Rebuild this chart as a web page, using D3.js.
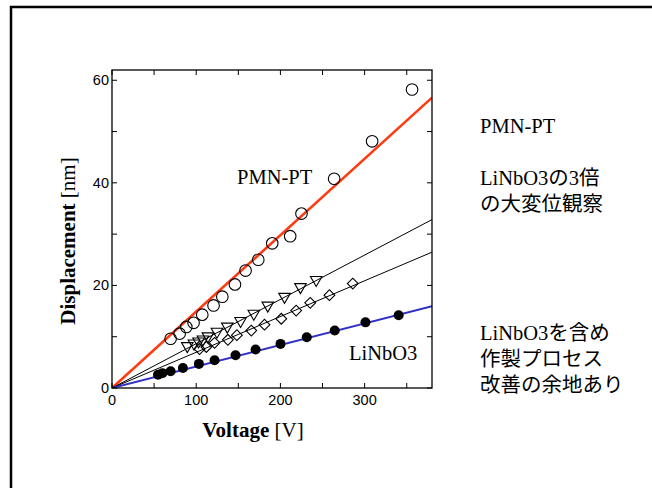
<!DOCTYPE html>
<html>
<head>
<meta charset="utf-8">
<script src="https://cdn.jsdelivr.net/npm/d3@7"></script>
<style>
  html, body { margin: 0; padding: 0; background: #fff; }
  svg { display: block; }
</style>
</head>
<body>
<svg id="chart" width="652" height="488"></svg>
<script>
// Displacement vs. voltage for several piezo samples
const pmnVolt  = [69.6, 80.3, 88.2, 96.9, 107.2, 120.6, 131, 146, 158.6, 173.7, 190.3, 211.6, 225, 263.8, 308.9, 356.3];
const pmnDisp  = [9.6, 10.6, 11.9, 12.7, 14.3, 16.1, 17.8, 20.2, 22.9, 25.0, 28.2, 29.6, 34.0, 40.8, 48.1, 58.2];

const triVolt  = [89.4, 97.3, 102.8, 108, 113.9, 124.6, 136.9, 152.7, 168.4, 185, 204.9, 223.8, 242.5];
const triDisp  = [8.2, 8.7, 9.1, 9.5, 10.1, 11.0, 12.0, 13.1, 14.5, 16.1, 17.8, 19.7, 21.1];

const diaVolt  = [104, 112, 121.8, 137.6, 148.3, 165.4, 181.1, 201, 218.7, 235.4, 258.2, 285.9];
const diaDisp  = [7.6, 8.0, 8.8, 9.4, 10.3, 11.2, 12.35, 13.5, 15.1, 16.6, 18.1, 20.35];

const lnVolt   = [54.6, 59.8, 69.6, 84.2, 103.2, 121.8, 146.7, 170.5, 200.1, 231.3, 264.5, 301, 340.4];
const lnDisp   = [2.6, 2.9, 3.25, 3.9, 4.7, 5.4, 6.4, 7.5, 8.6, 9.9, 11.2, 12.8, 14.2];

// Slopes of the linear fits through the origin [nm/V]
const fitNames  = ["pmn", "tri", "dia", "ln"];
const fitSlopes = [0.149, 0.0864, 0.0697, 0.0419];

const xTicks = [0, 100, 200, 300];
const xMinor = [50, 150, 250, 350];
const yTicks = [0, 20, 40, 60];
const yMinor = [10, 30, 50];

const noteTop    = ["PMN-PT", "", "LiNbO3の3倍", "の大変位観察"];
const noteBottom = ["LiNbO3を含め", "作製プロセス", "改善の余地あり"];

const svg = d3.select("#chart");
const serif = "'Liberation Serif', 'Times New Roman', serif";
const sans  = "'Liberation Sans', Arial, sans-serif";
const cjk   = "'Liberation Serif', 'Noto Sans CJK JP', serif";

// slide frame
svg.append("rect")
  .attr("x", 11).attr("y", 7).attr("width", 700).attr("height", 600)
  .attr("fill", "none").attr("stroke", "#000").attr("stroke-width", 2.5);

const L = 112, R = 432, T = 70, B = 388;
const x = d3.scaleLinear().domain([0, 380]).range([L, R]);
const y = d3.scaleLinear().domain([0, 62]).range([B, T]);

svg.append("clipPath").attr("id", "plotClip")
  .append("rect").attr("x", L).attr("y", T).attr("width", R - L).attr("height", B - T);

// fitted lines
const fitStyle = {
  pmn: { color: "#ff3a10", width: 2.6 },
  tri: { color: "#000", width: 1 },
  dia: { color: "#000", width: 1 },
  ln:  { color: "#3030c8", width: 2 }
};
const gFit = svg.append("g").attr("clip-path", "url(#plotClip)");
fitNames.forEach((n, i) => {
  const s = fitSlopes[i];
  gFit.append("line")
    .attr("x1", x(0)).attr("y1", y(0))
    .attr("x2", x(380)).attr("y2", y(380 * s))
    .attr("stroke", fitStyle[n].color)
    .attr("stroke-width", fitStyle[n].width);
});

// markers
const zip = (a, b) => a.map((v, i) => [v, b[i]]);
const gPts = svg.append("g");

gPts.selectAll(".pmn").data(zip(pmnVolt, pmnDisp)).join("circle")
  .attr("cx", d => x(d[0])).attr("cy", d => y(d[1])).attr("r", 5.8)
  .attr("fill", "none").attr("stroke", "#000").attr("stroke-width", 1.1);

const triPath = d3.symbol().type(d3.symbolTriangle).size(58)();
gPts.selectAll(".tri").data(zip(triVolt, triDisp)).join("path")
  .attr("d", triPath)
  .attr("transform", d => `translate(${x(d[0])},${y(d[1])}) rotate(180)`)
  .attr("fill", "none").attr("stroke", "#000").attr("stroke-width", 1.1);

const diaPath = d3.symbol().type(d3.symbolSquare).size(58)();
gPts.selectAll(".dia").data(zip(diaVolt, diaDisp)).join("path")
  .attr("d", diaPath)
  .attr("transform", d => `translate(${x(d[0])},${y(d[1])}) rotate(45)`)
  .attr("fill", "none").attr("stroke", "#000").attr("stroke-width", 1.1);

gPts.selectAll(".ln").data(zip(lnVolt, lnDisp)).join("circle")
  .attr("cx", d => x(d[0])).attr("cy", d => y(d[1])).attr("r", 5)
  .attr("fill", "#000");

// frame with inward ticks on all four sides
const gAx = svg.append("g");
gAx.append("rect").attr("x", L).attr("y", T).attr("width", R - L).attr("height", B - T)
  .attr("fill", "none").attr("stroke", "#000").attr("stroke-width", 1.3);

const tickLen = 5;
xTicks.concat(xMinor).forEach(v => {
  gAx.append("line").attr("x1", x(v)).attr("x2", x(v)).attr("y1", B).attr("y2", B - tickLen)
    .attr("stroke", "#000").attr("stroke-width", 1);
  gAx.append("line").attr("x1", x(v)).attr("x2", x(v)).attr("y1", T).attr("y2", T + tickLen)
    .attr("stroke", "#000").attr("stroke-width", 1);
});
yTicks.concat(yMinor).forEach(v => {
  gAx.append("line").attr("x1", L).attr("x2", L + tickLen).attr("y1", y(v)).attr("y2", y(v))
    .attr("stroke", "#000").attr("stroke-width", 1);
  gAx.append("line").attr("x1", R).attr("x2", R - tickLen).attr("y1", y(v)).attr("y2", y(v))
    .attr("stroke", "#000").attr("stroke-width", 1);
});

// tick labels
gAx.selectAll(".xl").data(xTicks).join("text")
  .attr("x", d => x(d)).attr("y", B + 17)
  .attr("text-anchor", "middle")
  .attr("font-family", sans).attr("font-size", 14.5)
  .text(d => d);
gAx.selectAll(".yl").data(yTicks).join("text")
  .attr("x", L - 3).attr("y", d => y(d) + 5)
  .attr("text-anchor", "end")
  .attr("font-family", sans).attr("font-size", 14.5)
  .text(d => d);

// axis titles
const xt = svg.append("text")
  .attr("x", 253).attr("y", 437).attr("text-anchor", "middle")
  .attr("font-family", serif).attr("font-size", 21);
xt.append("tspan").attr("font-weight", "bold").text("Voltage");
xt.append("tspan").text(" [V]");

const yt = svg.append("text")
  .attr("transform", "translate(75,241) rotate(-90)")
  .attr("text-anchor", "middle")
  .attr("font-family", serif).attr("font-size", 21);
yt.append("tspan").attr("font-weight", "bold").text("Displacement");
yt.append("tspan").text(" [nm]");

// in-plot labels
svg.append("text").attr("x", 237).attr("y", 184)
  .attr("font-family", serif).attr("font-size", 20.5).text("PMN-PT");
svg.append("text").attr("x", 349).attr("y", 360)
  .attr("font-family", serif).attr("font-size", 20.5).text("LiNbO3");

// notes on the right
svg.append("g").selectAll("text").data(noteTop).join("text")
  .attr("x", 480).attr("y", (d, i) => 133 + i * 26)
  .attr("font-family", cjk).attr("font-size", 20.5)
  .text(d => d);
svg.append("g").selectAll("text").data(noteBottom).join("text")
  .attr("x", 480).attr("y", (d, i) => 340 + i * 26)
  .attr("font-family", cjk).attr("font-size", 20.5)
  .text(d => d);
</script>
</body>
</html>
